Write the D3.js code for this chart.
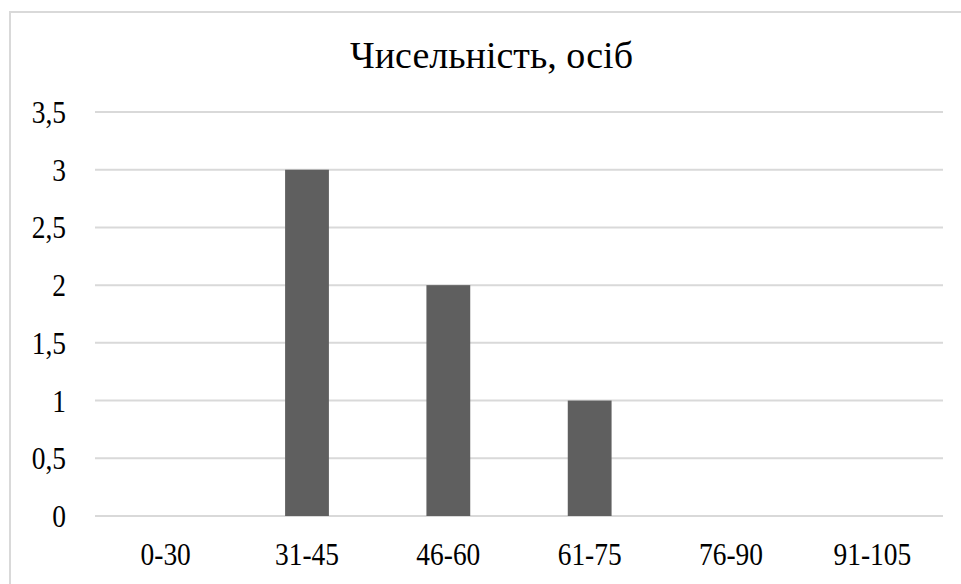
<!DOCTYPE html>
<html><head><meta charset="utf-8">
<script src="https://cdn.jsdelivr.net/npm/d3@7"></script>
<style>
html,body{margin:0;padding:0;background:#fff;}
svg{display:block;}
</style></head>
<body>
<script>
const title = "Чисельність, осіб";
const categories = ["0-30","31-45","46-60","61-75","76-90","91-105"];
const values = [0,3,2,1,0,0];
const yTicks = [0,0.5,1,1.5,2,2.5,3,3.5];
const yTickLabels = ["0","0,5","1","1,5","2","2,5","3","3,5"];

(function () {
const W = 961, H = 584;
const cv = document.createElement("canvas").getContext("2d");
function width(font, s) { cv.font = font; return cv.measureText(s).width; }
const probe = "abcdefghijklmnopqrstuvwxyz ЧисельністьосібWMil0123456789";
function available(f) {
  return ["monospace", "sans-serif"].some(g =>
    Math.abs(width(`72px '${f}', ${g}`, probe) - width(`72px ${g}`, probe)) > 0.5);
}
const candidates = ["Liberation Serif", "Tinos", "Times New Roman", "Times", "Noto Serif", "DejaVu Serif", "FreeSerif"];
const found = candidates.find(available);
const FONT = found ? `'${found}', serif` : "serif";

const svg = d3.select("body").append("svg").attr("width", W).attr("height", H)
  .attr("font-family", FONT);

svg.append("rect").attr("x", 10).attr("y", 12).attr("width", 980).attr("height", 620)
  .attr("fill", "#fff").attr("stroke", "#d9d9d9").attr("stroke-width", 2);

const pLeft = 95, pRight = 943, pTop = 112, pBottom = 516;
const y = d3.scaleLinear().domain([0, 3.5]).range([pBottom, pTop]);
const x = d3.scaleBand().domain(categories).range([pLeft, pRight]).paddingInner(0.69).paddingOuter(0.345);

const tickSize = 32.5, titleSize = 37.5;
const sx = Math.min(1.2, 64 / width(`${tickSize}px ${FONT}`, "31-45"));
const sxT = Math.min(1.2, 283 / width(`${titleSize}px ${FONT}`, title));

svg.append("g").selectAll("line").data(yTicks).join("line")
  .attr("x1", pLeft).attr("x2", pRight)
  .attr("y1", d => y(d)).attr("y2", d => y(d))
  .attr("stroke", "#d9d9d9").attr("stroke-width", 2);

svg.append("g").selectAll("rect").data(values).join("rect")
  .attr("x", (d, i) => x(categories[i]))
  .attr("y", d => y(d))
  .attr("width", x.bandwidth())
  .attr("height", d => y(0) - y(d))
  .attr("fill", "#5f5f5f");

svg.append("g").selectAll("text").data(yTicks).join("text")
  .attr("transform", d => `translate(66,${y(d) + 11}) scale(${sx},1)`)
  .attr("text-anchor", "end")
  .attr("font-size", tickSize)
  .attr("fill", "#000")
  .text((d, i) => yTickLabels[i]);

svg.append("g").selectAll("text").data(categories).join("text")
  .attr("transform", d => `translate(${x(d) + x.bandwidth() / 2},565) scale(${sx},1)`)
  .attr("text-anchor", "middle")
  .attr("font-size", tickSize)
  .attr("fill", "#000")
  .text(d => d);

svg.append("text")
  .attr("transform", `translate(491.5,68) scale(${sxT},1)`)
  .attr("text-anchor", "middle")
  .attr("font-size", titleSize)
  .attr("fill", "#000")
  .text(title);
})();
</script>
</body></html>
